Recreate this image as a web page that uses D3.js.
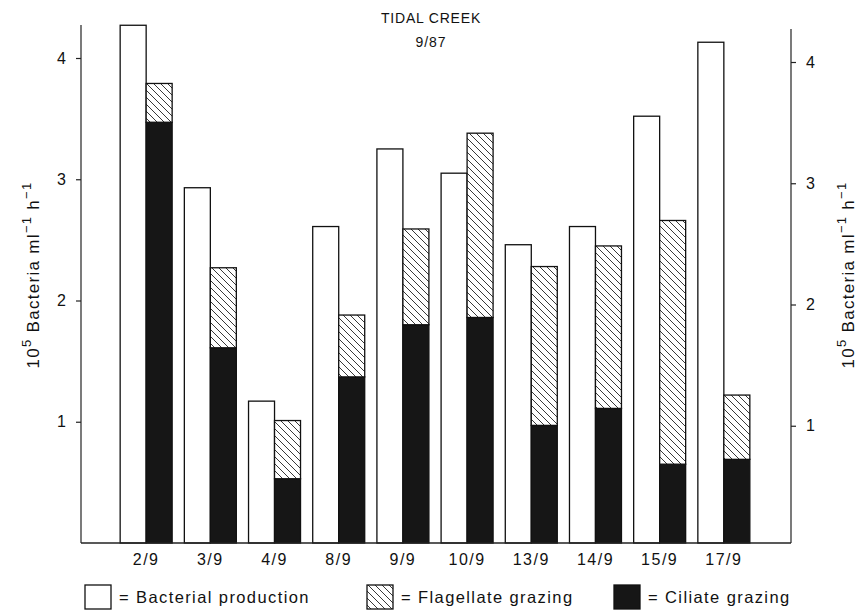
<!DOCTYPE html>
<html>
<head>
<meta charset="utf-8">
<script src="https://cdn.jsdelivr.net/npm/d3@7"></script>
<style>
    body { margin: 0; background: #fff; }
    text { font-family: "Liberation Sans", Arial, sans-serif; fill: #111; }
</style>
</head>
<body>
<svg id="chart" width="862" height="610"></svg>
<script>
// dates of sampling (x categories)
const dates = ["2/9", "3/9", "4/9", "8/9", "9/9", "10/9", "13/9", "14/9", "15/9", "17/9"];

// 10^5 bacteria ml-1 h-1
const production = [4.27, 2.93, 1.17, 2.61, 3.25, 3.05, 2.46, 2.61, 3.52, 4.13];
const ciliate = [3.47, 1.61, 0.53, 1.37, 1.80, 1.86, 0.97, 1.11, 0.65, 0.69];
const flagellate = [0.32, 0.66, 0.48, 0.51, 0.79, 1.52, 1.31, 1.34, 2.01, 0.53];

const yTicks = [1, 2, 3, 4];
const legendLabels = ["= Bacterial production", "= Flagellate grazing", "= Ciliate grazing"];

let svg = d3.select("#chart");

// hatch pattern for flagellate grazing
let defs = svg.append("defs");
let pat = defs.append("pattern")
    .attr("id", "hatch")
    .attr("patternUnits", "userSpaceOnUse")
    .attr("width", 7)
    .attr("height", 7);
pat.append("rect").attr("width", 7).attr("height", 7).attr("fill", "#fff");
pat.append("path")
    .attr("d", "M0,0 L7,7 M-1,6 L1,8 M6,-1 L8,1")
    .attr("stroke", "#222")
    .attr("stroke-width", 0.9);

const plotLeft = 81, plotRight = 791, plotTop = 25, base = 543;

let x = d3.scaleBand()
    .domain(dates)
    .range([plotLeft, 789])
    .paddingInner(0.19)
    .paddingOuter(0.61);

let x1 = d3.scaleBand()
    .domain(["prod", "graz"])
    .range([0, x.bandwidth()]);

let y = d3.scaleLinear()
    .domain([0, 4])
    .range([base, 58]);

// stacked grazing: ciliate at bottom, flagellate on top
let rows = dates.map((d, i) => ({ date: d, ciliate: ciliate[i], flagellate: flagellate[i] }));
let stacked = d3.stack().keys(["ciliate", "flagellate"])(rows);
const fills = { ciliate: "#161616", flagellate: "url(#hatch)" };

// production bars
svg.append("g").selectAll("rect")
    .data(dates)
    .join("rect")
    .attr("x", (d) => x(d) + x1("prod"))
    .attr("y", (d, i) => y(production[i]))
    .attr("width", x1.bandwidth())
    .attr("height", (d, i) => base - y(production[i]))
    .attr("fill", "#fff")
    .attr("stroke", "#111")
    .attr("stroke-width", 1.3);

// grazing bars
stacked.forEach((layer) => {
    svg.append("g").selectAll("rect")
        .data(layer)
        .join("rect")
        .attr("x", (d) => x(d.data.date) + x1("graz"))
        .attr("y", (d) => y(d[1]))
        .attr("width", x1.bandwidth())
        .attr("height", (d) => y(d[0]) - y(d[1]))
        .attr("fill", fills[layer.key])
        .attr("stroke", "#111")
        .attr("stroke-width", 1.3);
});

// axes frame: left, right, bottom
let leftAxis = d3.axisLeft(y).tickValues(yTicks).tickSize(5).tickPadding(10).tickFormat(d3.format("d"));
let gl = svg.append("g").attr("transform", "translate(" + plotLeft + ",0)").call(leftAxis);
gl.select(".domain").attr("d", "M0," + plotTop + "V" + base);

let rightAxis = d3.axisRight(y).tickValues(yTicks).tickSize(5).tickPadding(10).tickFormat(d3.format("d"));
let gr = svg.append("g").attr("transform", "translate(" + plotRight + ",4)").call(rightAxis);
gr.select(".domain").attr("d", "M0," + plotTop + "V" + (base - 4));

svg.selectAll(".tick text").attr("font-size", 16).style("font-family", "Liberation Sans, Arial, sans-serif");
svg.selectAll(".domain, .tick line").attr("stroke", "#222").attr("stroke-width", 1.2);

svg.append("line")
    .attr("x1", plotLeft).attr("x2", plotRight)
    .attr("y1", base).attr("y2", base)
    .attr("stroke", "#222").attr("stroke-width", 1.3);

// x labels
svg.append("g").selectAll("text")
    .data(dates)
    .join("text")
    .attr("x", (d) => x(d) + x.bandwidth() / 2)
    .attr("y", 565)
    .attr("text-anchor", "middle")
    .attr("font-size", 16)
    .attr("letter-spacing", 1.5)
    .text((d) => d);

// title
svg.append("text").attr("x", 431).attr("y", 23).attr("text-anchor", "middle")
    .attr("font-size", 14).attr("letter-spacing", 0.8).text("TIDAL CREEK");
svg.append("text").attr("x", 431).attr("y", 47).attr("text-anchor", "middle")
    .attr("font-size", 14).attr("letter-spacing", 1).text("9/87");

// y axis titles on both sides
function yTitle(cx) {
    let t = svg.append("text")
        .attr("transform", "translate(" + cx + ",275) rotate(-90)")
        .attr("text-anchor", "middle")
        .attr("font-size", 17)
        .attr("letter-spacing", 1.3);
    t.append("tspan").text("10");
    t.append("tspan").attr("dy", -8).attr("font-size", 13).text("5");
    t.append("tspan").attr("dy", 8).text(" Bacteria ml");
    t.append("tspan").attr("dy", -8).attr("font-size", 13).text("\u22121");
    t.append("tspan").attr("dy", 8).text(" h");
    t.append("tspan").attr("dy", -8).attr("font-size", 13).text("\u22121");
}
yTitle(39);
yTitle(854);

// legend
const legendX = [85, 367, 614];
const legendFill = ["#fff", "url(#hatch)", "#161616"];
legendLabels.forEach((label, i) => {
    svg.append("rect")
        .attr("x", legendX[i]).attr("y", 585)
        .attr("width", 26).attr("height", 24)
        .attr("fill", legendFill[i])
        .attr("stroke", "#111").attr("stroke-width", 1.3);
    svg.append("text")
        .attr("x", legendX[i] + 34).attr("y", 603)
        .attr("font-size", 16.5)
        .attr("letter-spacing", 1.4)
        .text(label);
});
</script>
</body>
</html>
